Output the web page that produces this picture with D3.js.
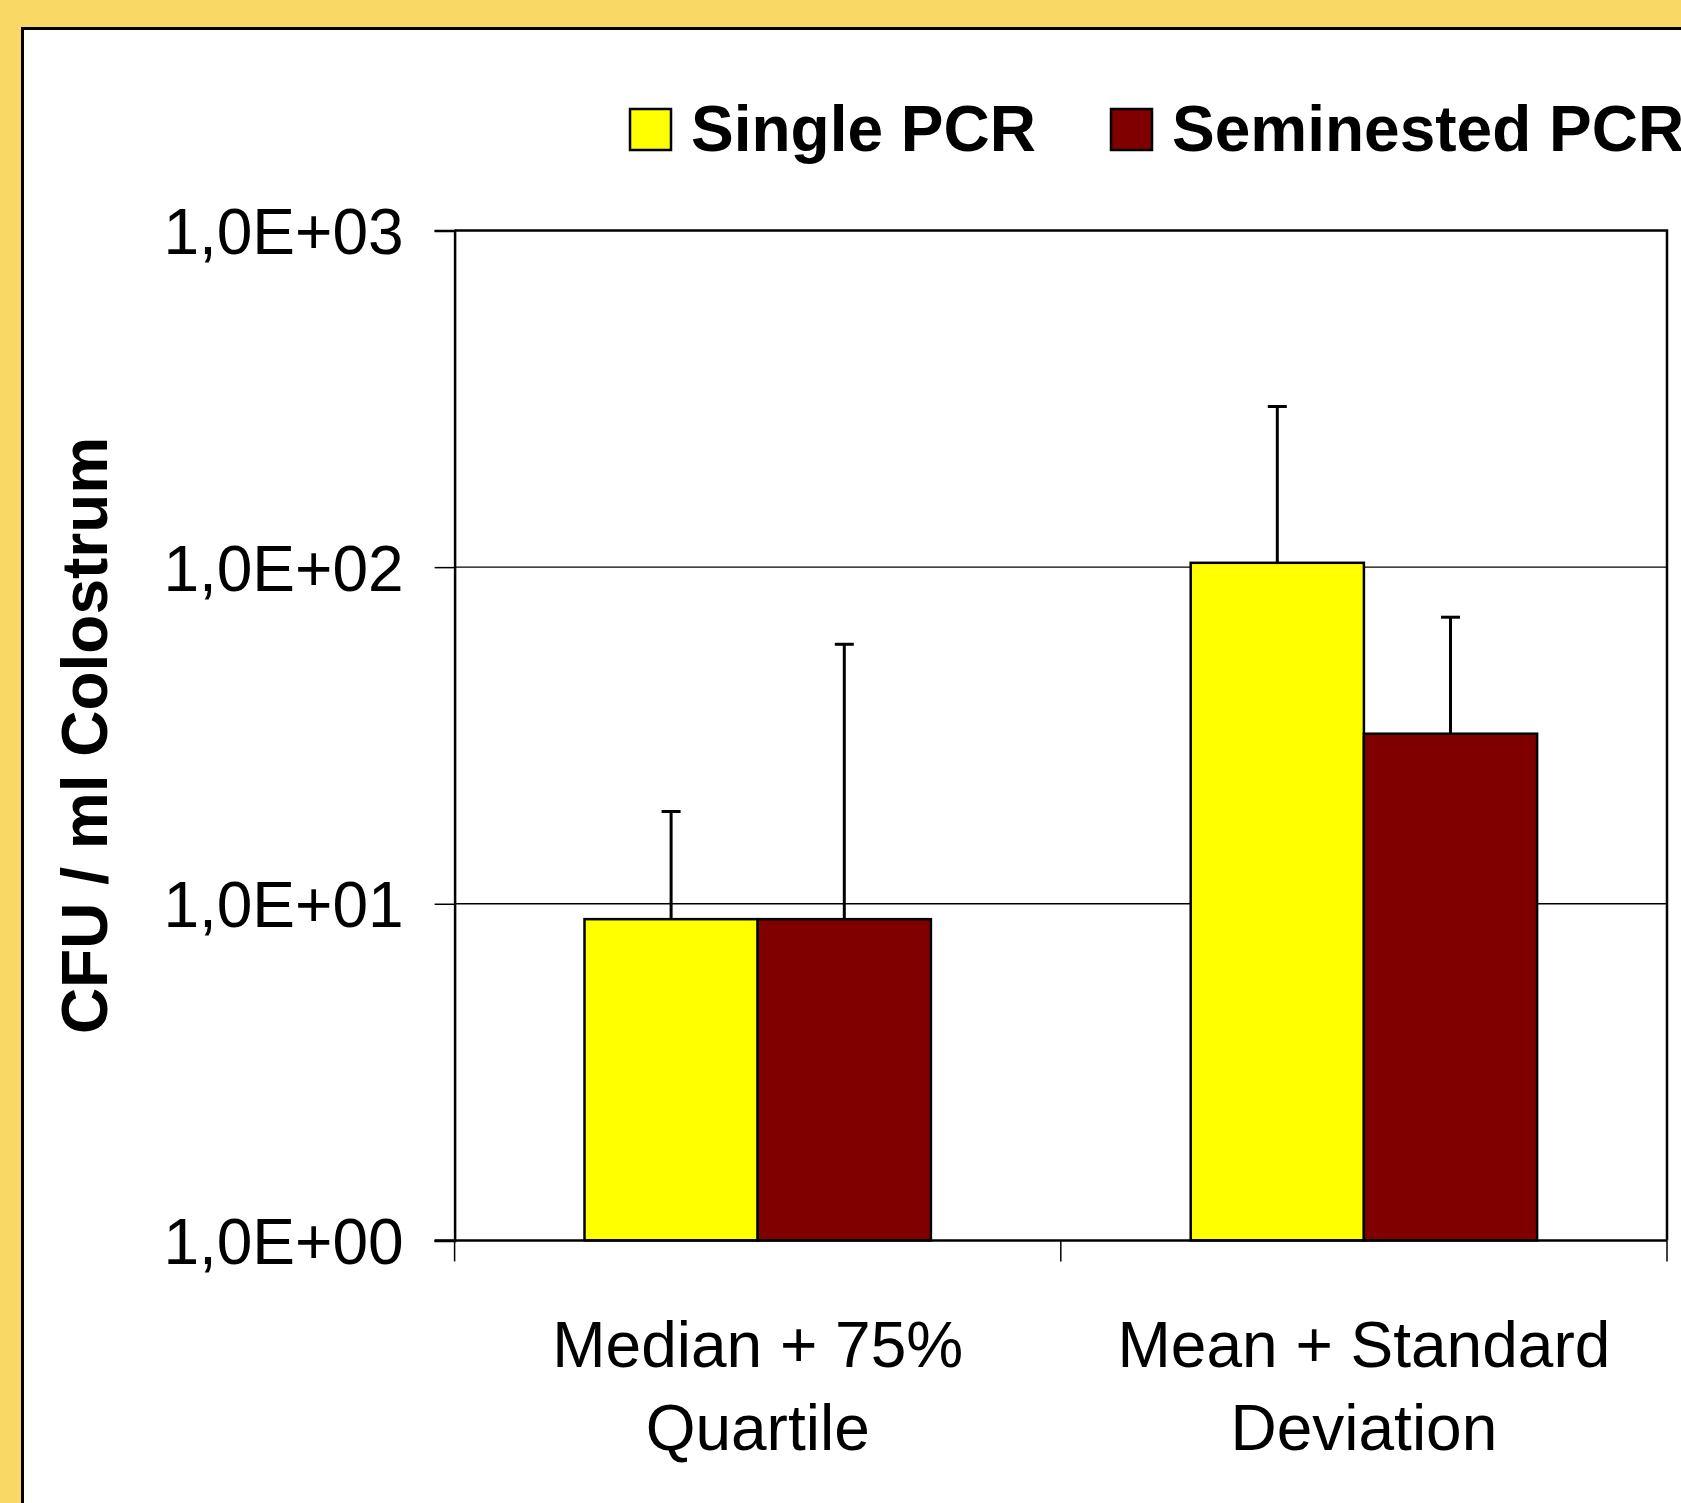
<!DOCTYPE html>
<html>
<head>
<meta charset="utf-8">
<script src="https://cdn.jsdelivr.net/npm/d3@7"></script>
<style>
  body { margin: 0; background: #f9d866; }
  svg { display: block; }
  text { font-family: "Liberation Sans", Arial, sans-serif; fill: #000; }
</style>
</head>
<body>
<svg id="chart" width="1681" height="1503"></svg>
<script>
var categories = [["Median + 75%", "Quartile"], ["Mean + Standard", "Deviation"]];
var series = ["Single PCR", "Seminested PCR"];
var colors = ["#ffff00", "#800000"];
// values per category: [single, seminested]
var barValues = [[9.0, 9.0], [103, 32]];
var errorTops = [[18.8, 59], [300, 71]];
var yTicks = [1, 10, 100, 1000];

var W = 1681, H = 1503;
var LEFT = 454.6, RIGHT = 1667, TOP = 230.5, BOTTOM = 1240.4;

var svg = d3.select("#chart");

// yellow frame + white card
svg.append("rect").attr("x", 0).attr("y", 0).attr("width", W).attr("height", H).style("fill", "#f9d866");
svg.append("rect").attr("x", 22.5).attr("y", 28.5).attr("width", W).attr("height", H)
    .style("fill", "#fff").style("stroke", "#000").style("stroke-width", 3);

var y = d3.scaleLog().domain([1, 1000]).range([BOTTOM, TOP]);
var catKeys = categories.map(function(c, i){ return i; });
var x0 = d3.scaleBand().domain(catKeys).range([LEFT, RIGHT]).padding(0);
var bw = x0.bandwidth();
var x1 = d3.scaleBand().domain(d3.range(series.length))
    .range([bw * 0.75 / 3.5, bw * 2.75 / 3.5]).padding(0);

// gridlines
svg.append("g").selectAll("line").data(yTicks.slice(1, 3)).join("line")
    .attr("x1", LEFT).attr("x2", RIGHT)
    .attr("y1", function(d){ return y(d); }).attr("y2", function(d){ return y(d); })
    .style("stroke", "#000").style("stroke-width", 1.3);

// plot frame (top + right)
svg.append("path")
    .attr("d", "M" + LEFT + "," + TOP + "H" + RIGHT + "V" + BOTTOM)
    .style("fill", "none").style("stroke", "#000").style("stroke-width", 2.5);

// bars
var groups = svg.append("g").selectAll("g").data(barValues).join("g")
    .attr("transform", function(d, i){ return "translate(" + x0(i) + ",0)"; });

groups.selectAll("rect").data(function(d){ return d; }).join("rect")
    .attr("x", function(d, j){ return x1(j); })
    .attr("y", function(d){ return y(d); })
    .attr("width", x1.bandwidth())
    .attr("height", function(d){ return BOTTOM - y(d); })
    .style("fill", function(d, j){ return colors[j]; })
    .style("stroke", "#000").style("stroke-width", 2.5);

// error bars
groups.each(function(d, i){
    var g = d3.select(this);
    errorTops[i].forEach(function(top, j){
        var cx = x1(j) + x1.bandwidth() / 2;
        g.append("line").attr("x1", cx).attr("x2", cx)
            .attr("y1", y(barValues[i][j])).attr("y2", y(top))
            .style("stroke", "#000").style("stroke-width", 3);
        g.append("line").attr("x1", cx - 9.5).attr("x2", cx + 9.5)
            .attr("y1", y(top)).attr("y2", y(top))
            .style("stroke", "#000").style("stroke-width", 3);
    });
});

// y axis
var yAxis = d3.axisLeft(y).tickValues(yTicks).tickSize(20).tickPadding(31)
    .tickFormat(function(d){ return "1,0E+0" + Math.round(Math.log10(d)); });
var ya = svg.append("g").attr("transform", "translate(" + LEFT + ",0)").call(yAxis);
ya.select(".domain").style("stroke", "#000").style("stroke-width", 2.5);
ya.selectAll(".tick line").style("stroke", "#000").style("stroke-width", 1.5);
ya.selectAll(".tick text").style("font-size", "64px").attr("dy", "0.36em")
    .style("font-family", "'Liberation Sans', Arial, sans-serif");

// x axis line + ticks at band edges
svg.append("line").attr("x1", LEFT - 20).attr("x2", RIGHT).attr("y1", BOTTOM).attr("y2", BOTTOM)
    .style("stroke", "#000").style("stroke-width", 2.5);
var edges = catKeys.map(function(i){ return x0(i); }).concat([RIGHT]);
svg.append("g").selectAll("line").data(edges).join("line")
    .attr("x1", function(d){ return d; }).attr("x2", function(d){ return d; })
    .attr("y1", BOTTOM).attr("y2", BOTTOM + 21)
    .style("stroke", "#000").style("stroke-width", 1.5);

// category labels
svg.append("g").selectAll("text").data(categories).join("text")
    .attr("text-anchor", "middle")
    .style("font-size", "64px")
    .each(function(d, i){
        var t = d3.select(this);
        var cx = x0(i) + bw / 2;
        d.forEach(function(line, k){
            t.append("tspan").attr("x", cx).attr("y", 1367 + k * 83).text(line);
        });
    });

// y title
svg.append("text")
    .attr("transform", "translate(107," + ((TOP + BOTTOM) / 2) + ") rotate(-90)")
    .attr("text-anchor", "middle")
    .style("font-size", "64px").style("font-weight", "bold")
    .text("CFU / ml Colostrum");

// legend (second entry runs off the right edge, as in the source)
var legendX = [630, 1111];
var leg = svg.append("g").selectAll("g").data(series).join("g")
    .attr("transform", function(d, i){ return "translate(" + legendX[i] + ",109)"; });
leg.append("rect").attr("x", 0).attr("y", 0).attr("width", 41).attr("height", 41)
    .style("fill", function(d, i){ return colors[i]; })
    .style("stroke", "#000").style("stroke-width", 2.5);
leg.append("text").attr("x", 61).attr("y", 42)
    .style("font-size", "64px").style("font-weight", "bold")
    .text(function(d){ return d; });
</script>
</body>
</html>
